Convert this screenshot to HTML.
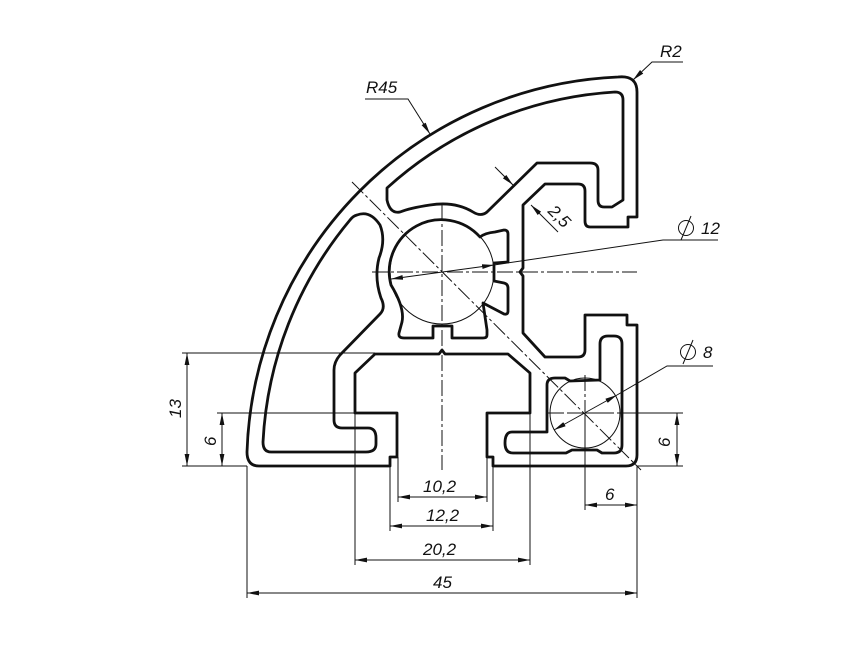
<!DOCTYPE html>
<html><head><meta charset="utf-8"><style>
html,body{margin:0;padding:0;background:#fff;}
svg{display:block;}
text{font-family:"Liberation Sans",sans-serif;font-style:italic;font-size:17px;fill:#111;}
</style></head><body>
<svg width="866" height="650" viewBox="0 0 866 650" xmlns="http://www.w3.org/2000/svg">
<defs>
<marker id="a" viewBox="0 0 12 6" refX="12" refY="3" markerWidth="12" markerHeight="6" markerUnits="userSpaceOnUse" orient="auto-start-reverse">
<path d="M0,0.6 L12,3 L0,5.4 Z" fill="#111"/></marker>
</defs>
<rect width="866" height="650" fill="#fff"/>
<g fill="none" stroke="#111" stroke-width="2.8" stroke-linejoin="round">
<path d="M247,452 A388 388 0 0 1 618,77 Q637,75 637,92 L637,217 L628,217 L628,227 L590,227 Q585,227 585,221 L585,191 Q585,184 578,184 L545,184 L523,205 L523,268 L520,272 L523,276 L523,333 L545,357 L578,357 Q585,357 585,350 L585,315 L627,315 L627,325 L637,325 L637,455 Q637,466 626,466 L493,466 L493,457 L487,457 L487,413 L530,413 L530,373 L508,354 L445,354 L442,350 L439,354 L375,354 L355,373 L355,413 L397,413 L397,457 L390,457 L390,466 L259,466 Q247,466 247,452 Z"/>
<path d="M387,188 A373 373 0 0 1 615,92 Q623,92 623,100 L623,200 L612,207 L604,207 Q598,207 598,200 L598,170 Q598,163 590,163 L537,163 L487,212 Q481,217 473,212 Q455,201 430,205 Q410,208 400,212 Q390,214 387,200 Z"/>
<path d="M357,215 Q370,210 380,225 Q386,240 379,258 Q374,278 381,298 Q386,308 380,314 L340,355 Q334,362 334,370 L334,420 Q334,428 342,428 L368,428 Q376,428 376,438 L376,444 Q376,452 366,452 L271,452 Q263,452 263,442 A376 376 0 0 1 350,220 Q353,216 357,215 Z"/>
<path d="M391,285 A52 52 0 0 1 480,237 Q485,233 495,232 L504,230 Q508,230 508,234 L508,262 L494,263 L494,281 L504,283 Q508,284 508,288 L508,311 Q508,315 504,314 L483,303 L487,330 L487,335 Q487,338 483,338 L452,338 L452,326 L433,326 L433,338 L404,338 Q398,338 399,333 L402,322 Q405,308 391,285 Z"/>
<path d="M512,432 L547,432 L547,385 Q547,378 555,378 L565,378 L570,381 L600,380 L600,344 Q600,336 608,336 L614,336 Q622,336 622,344 L622,445 Q622,453 614,453 L602,453 L597,450 L572,450 L566,453 L513,453 Q505,453 505,443 Q505,432 512,432 Z"/>
</g>
<g fill="none" stroke="#111" stroke-width="1">
<circle cx="442" cy="272" r="52"/>
<circle cx="585" cy="413" r="35"/>
<g stroke-dasharray="16 3 3 3">
<line x1="372" y1="272" x2="637" y2="272"/>
<line x1="442" y1="205" x2="442" y2="470"/>
<line x1="352" y1="182" x2="641" y2="470"/>
<line x1="585" y1="375" x2="585" y2="412"/>
<line x1="548" y1="413" x2="620" y2="413"/>
</g>
<line x1="570" y1="413" x2="600" y2="413"/>
<line x1="182" y1="353" x2="375" y2="353"/>
<line x1="182" y1="466" x2="247" y2="466"/>
<line x1="217" y1="413" x2="357" y2="413"/>
<line x1="187" y1="353" x2="187" y2="466" marker-start="url(#a)" marker-end="url(#a)"/>
<line x1="222" y1="413" x2="222" y2="466" marker-start="url(#a)" marker-end="url(#a)"/>
<line x1="620" y1="413" x2="683" y2="413"/>
<line x1="637" y1="466" x2="683" y2="466"/>
<line x1="677" y1="413" x2="677" y2="466" marker-start="url(#a)" marker-end="url(#a)"/>
<line x1="585" y1="413" x2="585" y2="510"/>
<line x1="637" y1="466" x2="637" y2="598"/>
<line x1="247" y1="466" x2="247" y2="598"/>
<line x1="585" y1="505" x2="637" y2="505" marker-start="url(#a)" marker-end="url(#a)"/>
<line x1="398" y1="457" x2="398" y2="502"/>
<line x1="487" y1="457" x2="487" y2="502"/>
<line x1="398" y1="497" x2="487" y2="497" marker-start="url(#a)" marker-end="url(#a)"/>
<line x1="390" y1="466" x2="390" y2="531"/>
<line x1="493" y1="466" x2="493" y2="531"/>
<line x1="390" y1="526" x2="493" y2="526" marker-start="url(#a)" marker-end="url(#a)"/>
<line x1="355" y1="413" x2="355" y2="565"/>
<line x1="530" y1="413" x2="530" y2="565"/>
<line x1="355" y1="560" x2="530" y2="560" marker-start="url(#a)" marker-end="url(#a)"/>
<line x1="247" y1="593" x2="637" y2="593" marker-start="url(#a)" marker-end="url(#a)"/>
<polyline points="365,99 408,99 430,134" marker-end="url(#a)"/>
<polyline points="683,62 652,62 633,80" marker-end="url(#a)"/>
<line x1="495" y1="167" x2="513" y2="185" marker-end="url(#a)"/>
<line x1="558" y1="232" x2="531" y2="205" marker-end="url(#a)"/>
<polyline points="718,240 663,240 494,265"/>
<line x1="494" y1="265" x2="391" y2="279" marker-start="url(#a)" marker-end="url(#a)"/>
<polyline points="713,366 667,366 617,395"/>
<line x1="617" y1="395" x2="554" y2="430" marker-start="url(#a)" marker-end="url(#a)"/>
</g>
<text x="366" y="93">R45</text>
<text x="660" y="57">R2</text>
<text x="0" y="0" transform="translate(547,212) rotate(45)">2,5</text>
<g stroke="#111" stroke-width="1" fill="none"><circle cx="686" cy="228" r="7.5"/><line x1="681" y1="240" x2="691" y2="216"/>
<circle cx="688" cy="352" r="7.5"/><line x1="683" y1="364" x2="693" y2="340"/></g>
<text x="701" y="234">12</text>
<text x="703" y="358">8</text>
<text x="0" y="0" transform="translate(181,418) rotate(-90)">13</text>
<text x="0" y="0" transform="translate(216,446) rotate(-90)">6</text>
<text x="0" y="0" transform="translate(670,447) rotate(-90)">6</text>
<text x="605" y="500">6</text>
<text x="423" y="492">10,2</text>
<text x="426" y="521">12,2</text>
<text x="423" y="555">20,2</text>
<text x="433" y="588">45</text>
</svg>
</body></html>
